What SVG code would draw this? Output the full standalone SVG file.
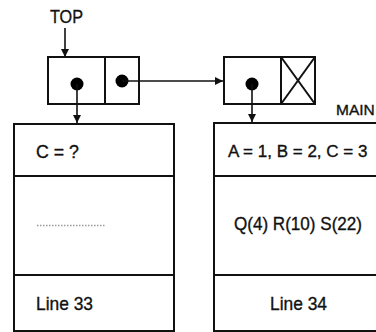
<svg xmlns="http://www.w3.org/2000/svg" width="376" height="332" viewBox="0 0 376 332">
<style>
.box{fill:#fff;stroke:#111;stroke-width:2}
.ln{stroke:#111;stroke-width:2;fill:none}
.dot{fill:#000}
.t{font-family:"Liberation Sans",Arial,sans-serif;font-size:19px;fill:#111;stroke:#111;stroke-width:0.35}
.conn{stroke:#111;stroke-width:1.6;fill:none;marker-end:url(#ah)}
</style>
<defs>
<marker id="ah" markerWidth="8" markerHeight="10" refX="8" refY="5" orient="auto" markerUnits="userSpaceOnUse">
<path d="M0,1 L8,5 L0,9 Z" fill="#111"/>
</marker>
</defs>
<rect width="376" height="332" fill="#fff"/>
<g id="top-label">
<text class="t" x="50" y="23" textLength="33" lengthAdjust="spacingAndGlyphs">TOP</text>
</g>
<g id="node-top">
<rect class="box" x="48" y="57" width="91" height="47"/>
<line class="ln" x1="105" y1="57" x2="105" y2="104"/>
<circle class="dot" cx="77" cy="84" r="6.5"/>
<circle class="dot" cx="122" cy="81" r="6.5"/>
</g>
<g id="node-main">
<rect class="box" x="224" y="57" width="91" height="47"/>
<line class="ln" x1="281" y1="57" x2="281" y2="104"/>
<line class="ln" x1="281" y1="57" x2="315" y2="104"/>
<line class="ln" x1="315" y1="57" x2="281" y2="104"/>
<circle class="dot" cx="252" cy="84" r="6.5"/>
</g>
<g id="frame-left">
<rect class="box" x="14" y="124" width="160" height="207"/>
<line class="ln" x1="14" y1="176" x2="174" y2="176"/>
<line class="ln" x1="14" y1="275" x2="174" y2="275"/>
<text class="t" x="36" y="158" textLength="43" lengthAdjust="spacingAndGlyphs">C = ?</text>
<line x1="37" y1="225.5" x2="106" y2="225.5" stroke="#999" stroke-width="1.5" stroke-dasharray="1.5,1.5"/>
<text class="t" x="36" y="310" textLength="57" lengthAdjust="spacingAndGlyphs">Line 33</text>
</g>
<g id="frame-main">
<path class="ln" d="M376,123 H214 V331 H376"/>
<line class="ln" x1="214" y1="176" x2="376" y2="176"/>
<line class="ln" x1="214" y1="275" x2="376" y2="275"/>
<text class="t" x="336" y="115" style="font-size:15.5px">MAIN</text>
<text class="t" x="228" y="157" style="font-size:17px">A = 1, B = 2, C = 3</text>
<text class="t" x="234" y="230" textLength="128" lengthAdjust="spacingAndGlyphs">Q(4) R(10) S(22)</text>
<text class="t" x="270" y="310" textLength="57" lengthAdjust="spacingAndGlyphs">Line 34</text>
</g>
<g id="connectors">
<line class="conn" x1="65" y1="28" x2="65" y2="57"/>
<line class="conn" x1="77" y1="84" x2="77" y2="123"/>
<line class="conn" x1="122" y1="81" x2="223" y2="81"/>
<line class="conn" x1="252" y1="84" x2="252" y2="122"/>
</g>
</svg>
